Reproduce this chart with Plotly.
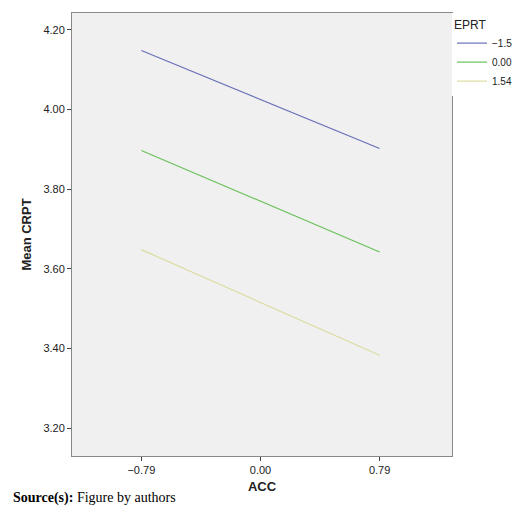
import plotly.graph_objects as go

acc = [-0.79, 0.79]
eprt_labels = ["\u22121.54", "0.00", "1.54"]
crpt_low = [4.148, 3.897, 3.648]
crpt_high = [3.902, 3.642, 3.383]
colors = ["#6870b8", "#6cc05c", "#dcdca0"]

fig = go.Figure()
for name, y0, y1, c in zip(eprt_labels, crpt_low, crpt_high, colors):
    fig.add_trace(go.Scatter(x=acc, y=[y0, y1], mode="lines", name=name,
                             line=dict(color=c, width=1.2)))

fig.update_layout(
    width=520, height=508,
    margin=dict(l=64, r=58, t=5, b=60),
    plot_bgcolor="#f0f0f0", paper_bgcolor="white",
    font=dict(family="Liberation Sans, Arial", size=11, color="#222"),
    legend=dict(title=dict(text="EPRT", font=dict(size=12)), x=1.0, y=1.0,
                xanchor="left", yanchor="top", font=dict(size=10),
                tracegroupgap=0, itemwidth=30),
    xaxis=dict(range=[-1.25, 1.27], tickvals=acc + [0], ticktext=["\u22120.79", "0.79", "0.00"],
               showgrid=False, zeroline=False, showline=True, linecolor="#888", mirror=True,
               ticks="outside", ticklen=4, tickcolor="#444",
               title=dict(text="<b>ACC</b>", font=dict(size=13), standoff=6)),
    yaxis=dict(range=[3.13, 4.242], tickvals=[3.2, 3.4, 3.6, 3.8, 4.0, 4.2], tickformat=".2f",
               showgrid=False, zeroline=False, showline=True, linecolor="#888", mirror=True,
               ticks="outside", ticklen=4, tickcolor="#444",
               title=dict(text="<b>Mean CRPT</b>", font=dict(size=13), standoff=8)),
)
fig.add_annotation(text="<b>Source(s):</b> Figure by authors", xref="paper", yref="paper",
                   x=-0.16, y=-0.095, xanchor="left", yanchor="middle", showarrow=False,
                   font=dict(family="Liberation Serif, Times New Roman", size=14, color="black"))
fig.write_html("out.html")
